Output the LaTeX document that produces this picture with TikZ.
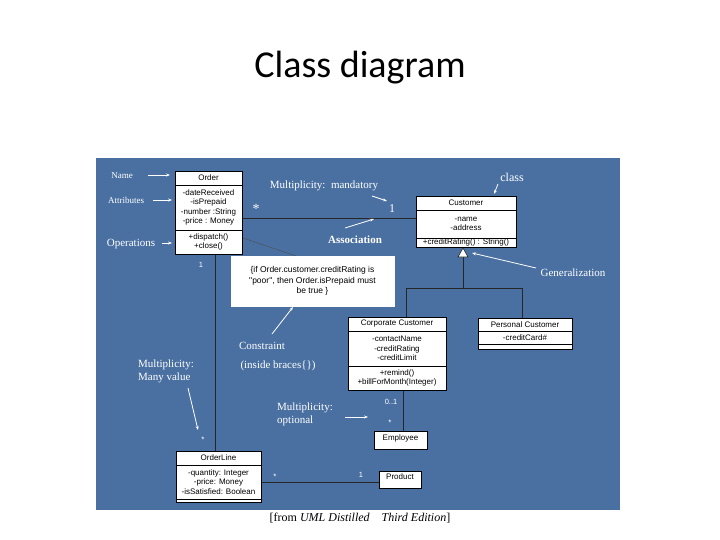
\documentclass[tikz,border=0pt]{standalone}
\usepackage{fontspec}
\setmainfont{Liberation Serif}
\newfontfamily\boxf{Liberation Sans}
\newfontfamily\titlef{Carlito}
\usetikzlibrary{arrows.meta}
\definecolor{panel}{RGB}{74,112,162}
\begin{document}
\begin{tikzpicture}[x=1pt,y=-1pt,
  box/.style={draw=black,fill=white,line width=0.6pt},
  bt/.style={font=\boxf\fontsize{8}{9.5}\selectfont,align=center,inner sep=0pt},
  lab/.style={text=white,font=\fontsize{11}{13}\selectfont,inner sep=0pt},
  ln/.style={draw=black!85,line width=0.8pt},
  warr/.style={draw=white,line width=0.8pt,-{Stealth[length=4pt,width=3pt]}}]
\useasboundingbox (0,0) rectangle (720,540);
\fill[white] (0,0) rectangle (720,540);
\node[font=\titlef\fontsize{38}{42}\selectfont] (title) at (360,68) {Class diagram};
\fill[panel] (96,158) rectangle (620,510);
% connectors
\draw[ln] (242,218) -- (416,218);
\draw[ln] (215,254) -- (215,451);
\draw[ln] (261,482) -- (379,482);
\draw[ln] (403,390) -- (403,431);
\draw[ln] (463,257) -- (463,288);
\draw[ln] (406,288) -- (522,288);
\draw[ln] (406,288) -- (406,317);
\draw[ln] (522,288) -- (522,318);
\draw[ln,fill=white,line width=0.6pt] (463,248) -- (468,257) -- (458,257) -- cycle;
\draw[draw=black!70,line width=0.4pt] (243,238) -- (299,257);
% Order
\draw[box] (175,171) rectangle (242,254);
\draw (175,185) -- (242,185); \draw (175,230) -- (242,230);
\node[bt] (order) at (208.5,178) {Order};
\node[bt] (orderA) at (208.5,207.5) {-dateReceived\\-isPrepaid\\-number :String\\-price : Money};
\node[bt] (orderO) at (208.5,242) {+dispatch()\\+close()};
% Customer
\draw[box] (416,196) rectangle (516,247);
\draw (416,210) -- (516,210); \draw (416,238) -- (516,238);
\node[bt] (cust) at (466,203) {Customer};
\node[bt] (custA) at (466,224) {-name\\-address};
\node[bt] (custO) at (466,242.5) {+creditRating() : String()};
% Corporate
\draw[box] (348,317) rectangle (446,390);
\draw (348,331) -- (446,331); \draw (348,366) -- (446,366);
\node[bt] (corp) at (397,324) {Corporate Customer};
\node[bt] (corpA) at (397,348.5) {-contactName\\-creditRating\\-creditLimit};
\node[bt] (corpO) at (397,378) {+remind()\\+billForMonth(Integer)};
% Personal
\draw[box] (478,318) rectangle (572,349);
\draw (478,331) -- (572,331); \draw (478,344) -- (572,344);
\node[bt] (pers) at (525,324.5) {Personal Customer};
\node[bt] (persA) at (525,337.5) {-creditCard\#};
% Employee, Product
\draw[box] (374,431) rectangle (427,449);
\node[bt] (emp) at (400.5,438) {Employee};
\draw[box] (379,471) rectangle (421,488);
\node[bt] (prod) at (400,477) {Product};
% OrderLine
\draw[box] (176,451) rectangle (261,502);
\draw (176,465) -- (261,465); \draw (176,499) -- (261,499);
\node[bt] (ol) at (218.5,458) {OrderLine};
\node[bt] (olA) at (218.5,482) {-quantity: Integer\\-price: Money\\-isSatisfied: Boolean};
% Note
\draw[box,draw=white] (231,256) rectangle (394,306);
\node[bt,font=\boxf\fontsize{8.5}{10.5}\selectfont] (note) at (312.5,281) {\{if Order.customer.creditRating is\\"poor", then Order.isPrepaid must\\be true \}};
% labels
\node[lab,font=\fontsize{9}{10}\selectfont] (lname) at (122,176) {Name};
\draw[warr] (148,175) -- (170,175);
\node[lab,font=\fontsize{9}{10}\selectfont] (lattr) at (126,200) {Attributes};
\draw[warr] (153,200) -- (172,200);
\node[lab] (lops) at (131,244) {Operations};
\draw[warr] (162,243) -- (172,243);
\node[lab] (lmand) at (324,186) {Multiplicity:\enspace mandatory};
\draw[warr] (372,196) -- (387,201);
\node[lab,font=\fontsize{14}{14}\selectfont] (s1) at (256,209) {*};
\node[lab,font=\fontsize{12}{12}\selectfont] (o1) at (392,209) {1};
\node[lab,font=\bfseries\fontsize{11}{13}\selectfont] (lassoc) at (355,240) {Association};
\draw[warr] (345,228) -- (374,219);
\node[lab,font=\fontsize{12}{13}\selectfont] (lclass) at (512,177) {class};
\draw[warr] (498,184) -- (494,194);
\node[lab] (lgen) at (573,273) {Generalization};
\draw[warr] (536,268) -- (472,253);
\node[lab,font=\boxf\fontsize{7.5}{8}\selectfont] (o2) at (201,265) {1};
\node[lab] (lcons) at (262,346) {Constraint};
\node[lab] (lbr) at (278,366) {(inside braces\{\})};
\draw[warr] (272,334) -- (293,307);
\node[lab,align=left] (lmany) at (166,371) {Multiplicity:\\Many value};
\draw[warr] (188,388) -- (198,430);
\node[lab,font=\boxf\fontsize{8}{8}\selectfont] (s2) at (203,440) {*};
\node[lab,align=left] (lopt) at (305,414) {Multiplicity:\\optional};
\draw[warr] (345,417) -- (368,417);
\node[lab,font=\boxf\fontsize{7.5}{8}\selectfont] (o3) at (391,402) {0..1};
\node[lab,font=\boxf\fontsize{8}{8}\selectfont] (s3) at (390,423) {*};
\node[lab,font=\boxf\fontsize{8}{8}\selectfont] (s4) at (275,477) {*};
\node[lab,font=\boxf\fontsize{7.5}{8}\selectfont] (o4) at (361,475) {1};
\node[font=\fontsize{12}{13}\selectfont,inner sep=0pt] (cap) at (360,518) {[from \textit{UML Distilled}\quad \textit{Third Edition}]};
\end{tikzpicture}
\end{document}
